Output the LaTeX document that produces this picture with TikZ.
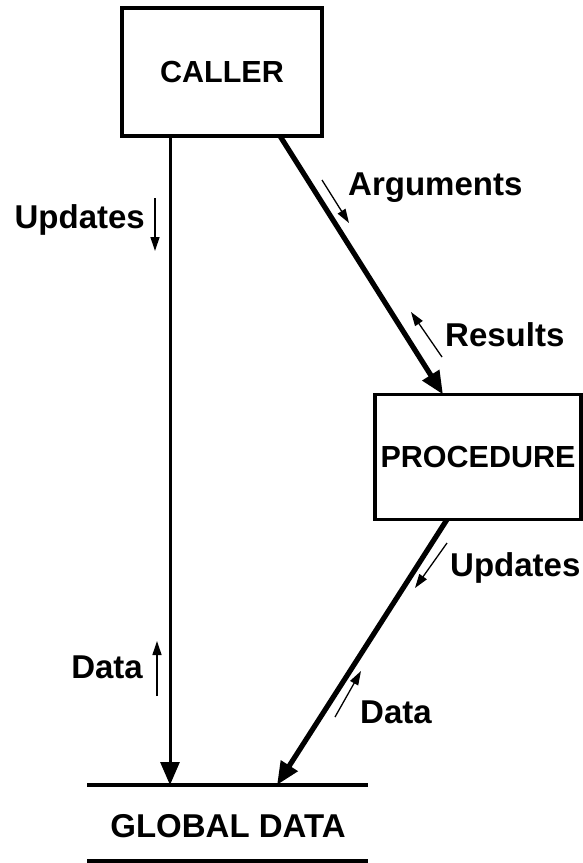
\documentclass[tikz,border=0pt]{standalone}
\usepackage{fontspec}
\setmainfont{Liberation Sans}
\usetikzlibrary{arrows.meta,positioning}

\tikzset{
	box/.style={draw,line width=3.2pt,inner sep=0pt,outer sep=0pt,font=\bfseries\fontsize{30.5}{31}\selectfont},
	lbl/.style={font=\bfseries\fontsize{33}{34}\selectfont,inner sep=0pt},
	flow/.style={line width=3pt,-{Triangle[length=23pt,width=19pt]}},
	heavy/.style={line width=5.2pt,-{Triangle[length=23pt,width=19pt]}},
	dir/.style={line width=1.3pt,-{Triangle[length=14pt,width=9pt]}}
}

\begin{document}
\begin{tikzpicture}[x=1pt,y=-1pt]
	\useasboundingbox (0,0) rectangle (583,863);
	% boxes
	\node[box,minimum width=200pt,minimum height=128pt] (caller) at (222,72) {CALLER};
	\node[box,minimum width=206pt,minimum height=125pt] (proc) at (478,457) {PROCEDURE};
	% global data store
	\coordinate (gtl) at (87,785);
	\coordinate (gtr) at (368,785);
	\coordinate (gbl) at (87,861);
	\coordinate (gbr) at (368,861);
	\draw[line width=4.5pt] (gtl) -- (gtr);
	\draw[line width=4.5pt] (gbl) -- (gbr);
	\node[lbl] (global) at (228,826) {GLOBAL DATA};
	\coordinate (gin1) at (170,785);
	\coordinate (gin2) at (277,785);
	% connectors
	\draw[flow] ([xshift=48pt]caller.south west) -- (gin1);
	\draw[heavy] ([xshift=158pt]caller.south west) -- ([xshift=68pt]proc.north west);
	\draw[heavy] ([xshift=72pt]proc.south west) -- (gin2);
	% direction marks and labels
	\draw[dir] (155,198) -- (155,251);
	\node[lbl,anchor=east] (updl) at (145,220) {Updates};
	\draw[dir] (157,696) -- (157,641);
	\node[lbl,anchor=east] (datal) at (143,667) {Data};
	\draw[dir] (322,180) -- (349,223);
	\node[lbl,anchor=west] (args) at (348,188) {Arguments};
	\draw[dir] (442,357) -- (411,312);
	\node[lbl,anchor=west] (res) at (445,335) {Results};
	\draw[dir] (447,543) -- (415,588);
	\node[lbl,anchor=west] (updr) at (450,568) {Updates};
	\draw[dir] (335,717) -- (361,671);
	\node[lbl,anchor=west] (datar) at (360,712) {Data};
\end{tikzpicture}
\end{document}
